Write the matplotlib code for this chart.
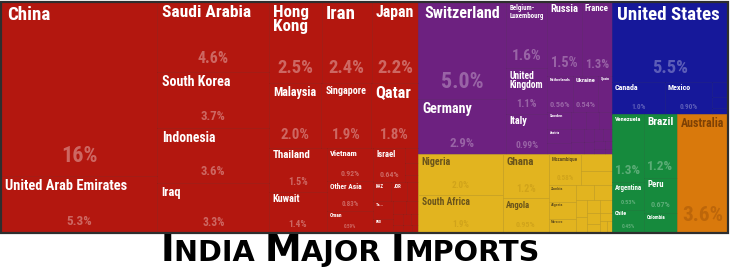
import numpy as np
import matplotlib
matplotlib.use("Agg")
import matplotlib.pyplot as plt
from matplotlib.patches import Rectangle

# ---------------- data: share of India's imports by partner (%) ----------------
asia_big_names = ["China", "United Arab Emirates"]
asia_big_values = [16.0, 5.3]
asia_gulf_names = ["Saudi Arabia", "South Korea", "Indonesia", "Iraq"]
asia_gulf_values = [4.6, 3.7, 3.6, 3.3]
asia_row1_names = ["Hong Kong", "Iran", "Japan"]
asia_row1_values = [2.5, 2.4, 2.2]
asia_row2_names = ["Malaysia", "Singapore", "Qatar"]
asia_row2_values = [2.0, 1.9, 1.8]
asia_row3a_names = ["Thailand", "Kuwait"]
asia_row3a_values = [1.5, 1.4]
asia_row3b_names = ["Vietnam", "Other Asia", "Oman"]
asia_row3b_values = [0.92, 0.83, 0.59]
asia_israel_names = ["Israel"]
asia_israel_values = [0.64]
asia_misc1_names = ["Bahrain", "Myanmar", "Bhutan"]
asia_misc1_values = [0.12, 0.10, 0.06]
asia_misc2_names = ["KAZ", "JOR", "Yemen"]
asia_misc2_values = [0.20, 0.18, 0.12]
asia_misc3_names = ["Ta...", "BGD"]
asia_misc3_values = [0.20, 0.16]
asia_misc4_names = ["Sri Lanka", "Philippines", "Nepal", "Brunei", "Pakistan",
                    "Cambodia", "Lebanon", "Mongolia"]
asia_misc4_values = [0.10, 0.09, 0.07, 0.05, 0.05, 0.05, 0.04, 0.03]

eu_col1_names = ["Switzerland", "Germany"]
eu_col1_values = [5.0, 2.9]
eu_col2_names = ["Belgium-Luxembourg", "United Kingdom", "Italy"]
eu_col2_values = [1.6, 1.1, 0.99]
eu_top_names = ["Russia", "France"]
eu_top_values = [1.5, 1.3]
eu_mid_names = ["Netherlands", "Ukraine", "Spain"]
eu_mid_values = [0.56, 0.54, 0.29]
eu_low_names = ["Sweden", "Austria", "Poland"]
eu_low_values = [0.24, 0.20, 0.16]
eu_other_names = ["Finland", "Czechia", "Ireland", "Norway", "Denmark", "Portugal",
                  "Hungary", "Romania", "Greece", "Slovakia", "Slovenia",
                  "Bulgaria", "Lithuania"]
eu_other_values = [0.14, 0.13, 0.12, 0.10, 0.09, 0.08, 0.07, 0.07, 0.06, 0.05,
                   0.04, 0.03, 0.02]

af_col1_names = ["Nigeria", "South Africa"]
af_col1_values = [2.0, 1.9]
af_col2_names = ["Ghana", "Angola"]
af_col2_values = [1.2, 0.95]
af_top_names = ["Mozambique"]
af_top_values = [0.58]
af_top_other_names = ["Egypt", "Tanzania"]
af_top_other_values = [0.30, 0.25]
af_low_names = ["Zambia", "Algeria", "Morocco"]
af_low_values = [0.26, 0.27, 0.22]
af_other_names = ["Benin", "Cote d'Ivoire", "Guinea", "Togo", "Congo", "Kenya",
                  "Gabon", "Cameroon", "Tunisia", "Sudan", "Senegal"]
af_other_values = [0.16, 0.15, 0.12, 0.11, 0.10, 0.09, 0.08, 0.07, 0.06, 0.05, 0.03]

na_top_names = ["United States"]
na_top_values = [5.5]
na_row_names = ["Canada", "Mexico"]
na_row_values = [1.0, 0.90]
na_other_names = ["Panama", "Trinidad and Tobago", "Dominican Republic"]
na_other_values = [0.14, 0.10, 0.06]

sa_left_names = ["Venezuela", "Argentina", "Chile"]
sa_left_values = [1.3, 0.53, 0.45]
sa_right_names = ["Brazil", "Peru", "Colombia"]
sa_right_values = [1.2, 0.67, 0.38]

oc_names = ["Australia"]
oc_values = [3.6]

title_words = ["India", "Major", "Imports"]

# ---------------- styling ----------------
REGION_STYLE = {
    "asia":     dict(face="#B3170F", name="white", pct=(1, 1, 1, 0.35)),
    "europe":   dict(face="#6D2180", name="white", pct=(1, 1, 1, 0.30)),
    "africa":   dict(face="#E2B41F", name=(0.25, 0.2, 0.1, 0.75), pct=(0.45, 0.3, 0, 0.16)),
    "namerica": dict(face="#16189A", name="white", pct=(1, 1, 1, 0.30)),
    "samerica": dict(face="#168A3D", name="white", pct=(1, 1, 1, 0.30)),
    "oceania":  dict(face="#D9790C", name=(0.2, 0.08, 0, 0.55), pct=(0.3, 0.1, 0, 0.2)),
}
LABEL_FONT = ["Liberation Sans Narrow", "Roboto Condensed", "Roboto"]


def leaves(names, values):
    return [("leaf", n, v) for n, v in zip(names, values)]


def total(node):
    if node[0] == "leaf":
        return node[2]
    if node[0] == "region":
        return total(node[2])
    return sum(total(c) for c in node[1])


def squarify(values, x, y, w, h):
    t = sum(values)
    areas = [v * w * h / t for v in values]
    rects = []
    i = 0
    while i < len(areas):
        short = min(w, h)

        def worst(row):
            s = sum(row)
            return max(max(short ** 2 * r / s ** 2, s ** 2 / (short ** 2 * r)) for r in row)

        row = [areas[i]]
        j = i + 1
        while j < len(areas) and worst(row + [areas[j]]) <= worst(row):
            row.append(areas[j])
            j += 1
        s = sum(row)
        if w >= h:
            cw = s / h
            yy = y
            for a in row:
                rects.append((x, yy, cw, a / cw))
                yy += a / cw
            x += cw
            w -= cw
        else:
            rh = s / w
            xx = x
            for a in row:
                rects.append((xx, y, a / rh, rh))
                xx += a / rh
            y += rh
            h -= rh
        i = j
    return rects


def layout(node, x, y, w, h, out, region=None, labelled=True):
    kind = node[0]
    if kind == "leaf":
        out.append(dict(name=node[1], value=node[2], x=x, y=y, w=w, h=h,
                        region=region, labelled=labelled))
        return
    if kind == "region":
        layout(node[2], x, y, w, h, out, node[1], labelled)
        return
    children = node[1]
    sums = [total(c) for c in children]
    t = sum(sums)
    if kind == "h":
        xx = x
        for c, s in zip(children, sums):
            layout(c, xx, y, w * s / t, h, out, region, labelled)
            xx += w * s / t
    elif kind == "v":
        yy = y
        for c, s in zip(children, sums):
            layout(c, x, yy, w, h * s / t, out, region, labelled)
            yy += h * s / t
    else:  # squarified block of minor partners, left unlabelled
        order = np.argsort(sums)[::-1]
        rects = squarify([sums[k] for k in order], x, y, w, h)
        for k, r in zip(order, rects):
            layout(children[k], *r, out, region, False)


asia = ("h", [
    ("v", leaves(asia_big_names, asia_big_values)),
    ("v", leaves(asia_gulf_names, asia_gulf_values)),
    ("v", [
        ("h", leaves(asia_row1_names, asia_row1_values)),
        ("h", leaves(asia_row2_names, asia_row2_values)),
        ("h", [
            ("v", leaves(asia_row3a_names, asia_row3a_values)),
            ("v", leaves(asia_row3b_names, asia_row3b_values)),
            ("v", [
                ("h", leaves(asia_israel_names, asia_israel_values)
                 + [("sq", leaves(asia_misc1_names, asia_misc1_values))]),
                ("h", leaves(asia_misc2_names, asia_misc2_values)),
                ("h", [("v", leaves(asia_misc3_names, asia_misc3_values)),
                       ("sq", leaves(asia_misc4_names, asia_misc4_values))]),
            ]),
        ]),
    ]),
])
europe = ("h", [
    ("v", leaves(eu_col1_names, eu_col1_values)),
    ("v", leaves(eu_col2_names, eu_col2_values)),
    ("v", [
        ("h", leaves(eu_top_names, eu_top_values)),
        ("h", leaves(eu_mid_names, eu_mid_values)),
        ("h", [("v", leaves(eu_low_names, eu_low_values)),
               ("sq", leaves(eu_other_names, eu_other_values))]),
    ]),
])
africa = ("h", [
    ("v", leaves(af_col1_names, af_col1_values)),
    ("v", leaves(af_col2_names, af_col2_values)),
    ("v", [
        ("h", leaves(af_top_names, af_top_values)
         + [("sq", leaves(af_top_other_names, af_top_other_values))]),
        ("h", [("v", leaves(af_low_names, af_low_values)),
               ("sq", leaves(af_other_names, af_other_values))]),
    ]),
])
namerica = ("v", leaves(na_top_names, na_top_values) + [
    ("h", leaves(na_row_names, na_row_values)
     + [("sq", leaves(na_other_names, na_other_values))])])
samerica = ("h", [("v", leaves(sa_left_names, sa_left_values)),
                  ("v", leaves(sa_right_names, sa_right_values))])
oceania = ("v", leaves(oc_names, oc_values))

tree = ("h", [
    ("region", "asia", asia),
    ("v", [("region", "europe", europe), ("region", "africa", africa)]),
    ("v", [("region", "namerica", namerica),
           ("h", [("region", "samerica", samerica), ("region", "oceania", oceania)])]),
])

# ---------------- figure ----------------
W, H = 730, 270
fig = plt.figure(figsize=(W / 100, H / 100), dpi=100)
fig.patch.set_facecolor("white")
ax = fig.add_axes([0, 0, 1, 1])
ax.set_xlim(0, W)
ax.set_ylim(H, 0)
ax.axis("off")
renderer = fig.canvas.get_renderer()
PT = 72 / 100  # points per pixel

X0, Y0, TW, TH = 1, 2, 727, 231
cells = []
layout(tree, X0, Y0, TW, TH, cells)


def darker(c, f=0.86):
    r, g, b = matplotlib.colors.to_rgb(c)
    return (r * f, g * f, b * f)


def fmt(v):
    if v >= 10:
        return f"{v:.0f}%"
    if v >= 1:
        return f"{v:.1f}%"
    return f"{v:.2f}%"


def fitted_text(s, x, y, size_px, max_w, **kw):
    t = ax.text(x, y, s, fontsize=size_px * PT, family=LABEL_FONT,
                fontweight="bold", **kw)
    bw = t.get_window_extent(renderer=renderer).width
    if bw > max_w:
        size_px *= max_w / bw
        t.set_fontsize(size_px * PT)
    return t, size_px


for c in cells:
    st = REGION_STYLE[c["region"]]
    ax.add_patch(Rectangle((c["x"], c["y"]), c["w"], c["h"], facecolor=st["face"],
                           edgecolor=darker(st["face"]), linewidth=0.6 * PT))

for c in cells:
    if not c["labelled"]:
        continue
    x, y, w, h = c["x"], c["y"], c["w"], c["h"]
    if w * h < 200 or w < 10 or h < 10:
        continue
    st = REGION_STYLE[c["region"]]
    pad = float(np.clip(0.05 * min(w, h) + 1.5, 1.5, 6))
    avail = w - 2 * pad
    name = c["name"]
    options = [name]
    if " " in name or "-" in name:
        options.append(name.replace("-", "-\n").replace(" ", "\n"))
    best = None
    for opt in options:
        n = opt.count("\n") + 1
        lim = min(19, 0.25 * h if n == 1 else 0.42 * h / n)
        t = ax.text(0, 0, opt, fontsize=lim * PT, family=LABEL_FONT, fontweight="bold")
        bw = t.get_window_extent(renderer=renderer).width
        t.remove()
        size = lim * min(1, avail / bw)
        if best is None or size > best[1] * 1.15:
            best = (opt, size)
    opt, size = best
    name_bottom = y + pad
    if size >= 3.2:
        t = ax.text(x + pad, y + pad * 0.7, opt, fontsize=size * PT, family=LABEL_FONT,
                    fontweight="bold", color=st["name"], ha="left", va="top",
                    linespacing=0.95)
        bb = t.get_window_extent(renderer=renderer)
        name_bottom = y + pad * 0.7 + bb.height

    if w * h >= 650 and h >= 20:
        psize = min(22, 0.23 * h)
        t, psize = fitted_text(fmt(c["value"]), x + w / 2, 0, psize, 0.8 * w,
                               color=st["pct"], ha="center", va="center")
        if psize < 3.5:
            t.remove()
            continue
        yc = y + h - (0.5 * psize + 3 + 0.03 * h)
        yc = max(yc, name_bottom + 0.6 * psize)
        yc = min(yc, y + h - 0.6 * psize)
        t.set_position((x + w / 2, yc))

# outer frame
ax.add_patch(Rectangle((X0, Y0), TW, TH, fill=False, edgecolor="#2e2e2e",
                       linewidth=2.2 * PT))

# ---------------- title in small capitals ----------------
big_px, small_px = 32, 25
pieces = []
for k, word in enumerate(title_words):
    pieces.append((word[0].upper(), big_px))
    pieces.append((word[1:].upper() + (" " if k < len(title_words) - 1 else ""), small_px))
objs = []
base_y = 261
for s, px in pieces:
    t = ax.text(0, base_y, s, fontsize=px * PT, family="DejaVu Sans", fontweight="bold",
                color="black", ha="left", va="baseline")
    objs.append(t)
widths = [t.get_window_extent(renderer=renderer).width for t in objs]
scale = 380 / sum(widths)
for t in objs:
    t.set_fontsize(t.get_fontsize() * scale)
widths = [t.get_window_extent(renderer=renderer).width for t in objs]
xx = 350 - sum(widths) / 2
for t, wdt in zip(objs, widths):
    t.set_position((xx, base_y))
    xx += wdt

fig.savefig("out.png", dpi=100, facecolor="white")
